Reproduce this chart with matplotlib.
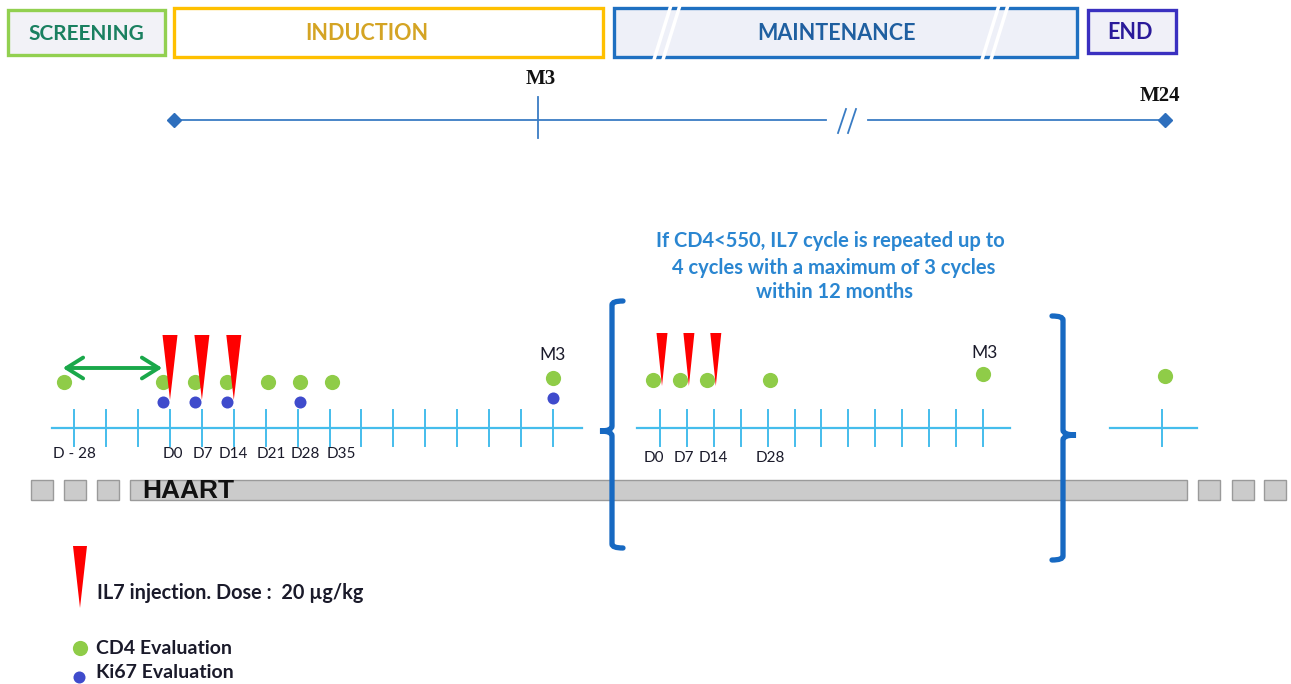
import numpy as np
import matplotlib.pyplot as plt
from matplotlib.patches import Rectangle, Polygon, FancyArrowPatch, PathPatch
from matplotlib.path import Path

plt.rcParams['font.family'] = ['Lato', 'DejaVu Sans']

# ---- data ----
phases = ['SCREENING', 'INDUCTION', 'MAINTENANCE', 'END']
top_marks = ['M3', 'M24']

il7_days = [0, 7, 14]
cycle_tick_days = list(range(0, 85, 7))
screen_tick_days = [-28, -18.67, -9.33]

cd4_days_c1 = [-28, 0, 7, 14, 21, 28, 35, 84]
ki67_days_c1 = [0, 7, 14, 28, 84]
labels_c1 = {-28: 'D - 28', 0: 'D0', 7: 'D7', 14: 'D14', 21: 'D21', 28: 'D28', 35: 'D35'}

cd4_days_c2 = [0, 7, 14, 28, 84]
labels_c2 = {0: 'D0', 7: 'D7', 14: 'D14', 28: 'D28'}

note_lines = ['If CD4<550, IL7 cycle is repeated up to',
              '4 cycles with a maximum of 3 cycles',
              'within 12 months']
legend_items = ['IL7 injection. Dose :  20 µg/kg', 'CD4 Evaluation', 'Ki67 Evaluation']

# ---- colours ----
c_line = '#45bdec'
c_green = '#8fcc48'
c_blue = '#3f4bcc'
c_red = '#ff0000'
c_brk = '#1769c2'
c_txt = '#1a1a2a'

fig = plt.figure(figsize=(12.91, 6.84), dpi=100)
ax = fig.add_axes([0, 0, 1, 1])
ax.set_xlim(0, 1291)
ax.set_ylim(684, 0)
ax.axis('off')

# ---- phase boxes ----
box_x = [(8, 165), (174, 603), (614, 1077), (1088, 1176)]
box_y = [(10, 55), (8, 57), (8, 57), (10, 53)]
box_edge = ['#92d050', '#ffc000', '#1f70c1', '#3a30c0']
box_face = ['#f2f2f7', 'white', '#eef0f8', '#f0f0f8']
box_txt = ['#1a8060', '#d4a424', '#1f5fa0', '#2a1a9a']
txt_dx = [0, -22, -9, -2]
txt_fs = [15, 15.5, 15.5, 15.5]
for name, (x0, x1), (y0, y1), ec, fc, tc, dx, fs in zip(phases, box_x, box_y, box_edge,
                                                        box_face, box_txt, txt_dx, txt_fs):
    ax.add_patch(Rectangle((x0, y0), x1 - x0, y1 - y0, fc=fc, ec=ec, lw=2.4))
    ax.text((x0 + x1) / 2 + dx, (y0 + y1) / 2 + 1, name, ha='center', va='center',
            fontsize=fs, fontweight='bold', color=tc)
# white slashes across maintenance box
for xs in (664, 992):
    for d in (0, 9):
        ax.plot([xs + d + 8, xs + d - 12], [2, 66], color='white', lw=2.5, zorder=5)

# ---- top timeline ----
tl = '#3a7cc4'
ax.plot([174, 826], [120, 120], color=tl, lw=1.3)
ax.plot([868, 1165], [120, 120], color=tl, lw=1.3)
for d in (0, 10):
    ax.plot([838 + d, 846 + d], [133, 109], color=tl, lw=1.3)
ax.plot([174, 1165], [120, 120], ls='none', marker='D', ms=7, color='#2e6fbd')
ax.plot([538, 538], [97, 138], color=tl, lw=1.3)
ax.text(541, 79, top_marks[0], ha='center', va='center', fontsize=15,
        fontweight='bold', family='Liberation Serif', color='#111')
ax.text(1160, 96, top_marks[1], ha='center', va='center', fontsize=15,
        fontweight='bold', family='Liberation Serif', color='#111')


# ---- cycle timelines ----
def x_c1(day):
    slot = day / 7 if day >= 0 else day * 3 / 28
    return 170 + slot * 31.9


def x_c2(day):
    return 660 + day / 7 * 26.9


def dot_dx(day):
    if day < 0:
        return -10
    if day in il7_days:
        return -7
    if day == 84:
        return 0
    return 2


def dot_dy(day):
    return -4 if day == 84 else 0


y_axis = 428


def wedge(x, top, tip, w):
    ax.add_patch(Polygon([(x - w / 2, top), (x + w / 2, top), (x, tip)],
                         closed=True, fc=c_red, ec='none', zorder=4))


# cycle 1
lab_dx_c1 = {-28: 0, 0: 3, 7: 1, 14: 0, 21: 6, 28: 8, 35: 12}
ax.plot([52, 582], [y_axis, y_axis], color=c_line, lw=1.6)
for d in screen_tick_days + cycle_tick_days:
    ax.plot([x_c1(d)] * 2, [410, 446], color=c_line, lw=1.4)
for d, lab in labels_c1.items():
    ax.text(x_c1(d) + lab_dx_c1[d], 454, lab, ha='center', va='center', fontsize=11, color=c_txt)
ax.scatter([x_c1(d) + dot_dx(d) for d in cd4_days_c1], [382 + dot_dy(d) for d in cd4_days_c1],
           s=120, color=c_green, zorder=3, lw=0)
ax.scatter([x_c1(d) + dot_dx(d) for d in ki67_days_c1], [402 + dot_dy(d) for d in ki67_days_c1],
           s=75, color=c_blue, zorder=3, lw=0)
for d in il7_days:
    wedge(x_c1(d), 335, 400, 15)
ax.add_patch(FancyArrowPatch((60, 368), (165, 368), arrowstyle='<->,head_length=8,head_width=5',
                             color='#1aa84a', lw=2.8, mutation_scale=1.5))
ax.text(x_c1(84), 355, 'M3', ha='center', va='center', fontsize=12.5, color=c_txt)

# cycle 2
lab_dx_c2 = {0: -6, 7: -3, 14: 0, 28: 3}
ax.plot([637, 1010], [y_axis, y_axis], color=c_line, lw=1.6)
for d in cycle_tick_days:
    ax.plot([x_c2(d)] * 2, [410, 446], color=c_line, lw=1.4)
for d, lab in labels_c2.items():
    ax.text(x_c2(d) + lab_dx_c2[d], 458, lab, ha='center', va='center',
            fontsize=11, color=c_txt)
ax.scatter([x_c2(d) + dot_dx(d) for d in cd4_days_c2], [380 + 1.5 * dot_dy(d) for d in cd4_days_c2],
           s=120, color=c_green, zorder=3, lw=0)
for d in il7_days:
    wedge(x_c2(d) + 2, 333, 386, 11)
ax.text(x_c2(84) + 2, 353, 'M3', ha='center', va='center', fontsize=12.5, color=c_txt)

# partial next cycle
ax.plot([1110, 1197], [y_axis, y_axis], color=c_line, lw=1.6)
ax.plot([1162, 1162], [410, 446], color=c_line, lw=1.4)
ax.scatter([1165], [376], s=120, color=c_green, zorder=3, lw=0)

# ---- HAART bar ----
hc, he = '#cbcbcb', '#9a9a9a'
ax.add_patch(Rectangle((130, 480), 1057, 20, fc=hc, ec=he, lw=1))
for xs in (31, 64, 97, 1198, 1232, 1264):
    ax.add_patch(Rectangle((xs, 480), 22, 20, fc=hc, ec=he, lw=1))
ax.text(142, 491, 'HAART', ha='left', va='center', fontsize=19, fontweight='bold',
        family='Liberation Sans', color='#111')

# ---- brackets ----
C, L, M = Path.CURVE3, Path.LINETO, Path.MOVETO
lb = Path([(623, 301), (612, 301), (612, 305), (612, 426), (612, 431), (600, 431),
           (612, 431), (612, 436), (612, 544), (612, 548), (623, 548)],
          [M, C, C, L, C, C, C, C, L, C, C])
rb = Path([(1052, 316), (1063, 316), (1063, 320), (1063, 430), (1063, 435), (1076, 435),
           (1063, 435), (1063, 440), (1063, 556), (1063, 560), (1052, 560)],
          [M, C, C, L, C, C, C, C, L, C, C])
for p in (lb, rb):
    ax.add_patch(PathPatch(p, fc='none', ec=c_brk, lw=3.8, capstyle='round', zorder=6))

# ---- note ----
for (txt, xc, yc) in zip(note_lines, (830, 834, 834), (241, 268, 292)):
    ax.text(xc, yc, txt, ha='center', va='center', fontsize=14.5, fontweight='bold', color='#2a86d1')

# ---- legend ----
wedge(80, 546, 608, 14)
ax.text(97, 593, legend_items[0], ha='left', va='center', fontsize=14.3, fontweight='bold', color=c_txt)
ax.scatter([80], [648], s=120, color=c_green, lw=0)
ax.text(96, 648, legend_items[1], ha='left', va='center', fontsize=14, fontweight='bold', color=c_txt)
ax.scatter([79], [677], s=75, color=c_blue, lw=0)
ax.text(96, 673, legend_items[2], ha='left', va='center', fontsize=14, fontweight='bold', color=c_txt)

fig.savefig('out.png', dpi=100)
